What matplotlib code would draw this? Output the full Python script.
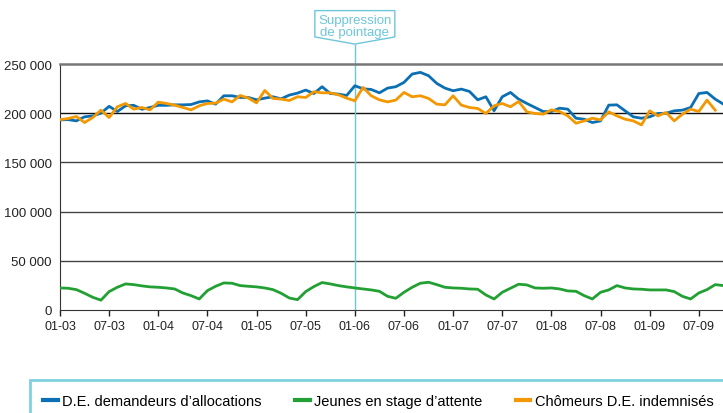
import numpy as np
import matplotlib
matplotlib.use("Agg")
import matplotlib.pyplot as plt
from matplotlib.patches import Polygon, Rectangle
from matplotlib.lines import Line2D

plt.rcParams["font.family"] = ["Liberation Sans", "DejaVu Sans"]

# monthly values, 01-03 ... 10-09
allocations = [193200, 193500, 192200, 196300, 197300, 200000, 207000, 201700, 207500, 208000,
               204000, 205800, 208000, 208000, 208500, 208500, 208800, 211500, 212500, 209200,
               217700, 217700, 216000, 216000, 213600, 215300, 216700, 214600, 218400, 220400,
               223500, 220000, 226900, 220000, 219400, 218000, 227900, 224800, 224100, 220700,
               225500, 226900, 231300, 239800, 241500, 238100, 230300, 225500, 222800, 224500,
               222100, 213600, 216700, 202500, 216700, 221100, 214300, 209900, 205800, 201700,
               201700, 205100, 204100, 194900, 193900, 190500, 192200, 208200, 208500, 202400,
               196300, 194900, 196300, 199700, 200000, 202400, 203100, 205800, 220000, 221100,
               214300, 209200]
jeunes = [22400, 22100, 20700, 17000, 12900, 10000, 18700, 23100, 26500, 25800,
          24500, 23500, 23100, 22400, 21400, 17300, 14600, 11200, 19700, 24100,
          27500, 27200, 24800, 24100, 23500, 22400, 20700, 17000, 12200, 10500,
          18700, 23800, 27900, 26500, 24800, 23500, 22400, 21400, 20400, 19000,
          13900, 11900, 18000, 23100, 27200, 28200, 25800, 23100, 22400, 22100,
          21400, 21100, 15300, 11200, 18000, 22100, 26200, 25500, 22400, 22100,
          22400, 21400, 19400, 19000, 14600, 11200, 18000, 20400, 24800, 22400,
          21400, 21100, 20400, 20400, 20400, 18700, 13900, 11200, 17300, 20700,
          25800, 24800]
indemnises = [193500, 194600, 196600, 190500, 195600, 203100, 195600, 206500, 209900, 204100,
              205800, 203400, 211200, 209900, 208200, 205800, 203400, 207500, 209900, 210200,
              214300, 211500, 218000, 215300, 210500, 223100, 215000, 214300, 212900, 216700,
              216000, 221800, 220700, 220700, 218700, 215300, 212600, 226200, 217700, 213600,
              211500, 213300, 221100, 216700, 217700, 215000, 209200, 208500, 217700, 208200,
              205800, 204800, 199700, 207500, 209900, 206500, 211900, 201400, 199700, 199000,
              203400, 201700, 197300, 189800, 192200, 194900, 193200, 201400, 197300, 193900,
              192200, 188100, 202400, 197300, 200700, 192200, 199000, 204100, 201700, 213300,
              203100]
tick_labels = ["01-03", "07-03", "01-04", "07-04", "01-05", "07-05", "01-06",
               "07-06", "01-07", "07-07", "01-08", "07-08", "01-09", "07-09"]
y_ticks = [0, 50000, 100000, 150000, 200000, 250000]
noms = ["D.E. demandeurs d\u2019allocations", "Jeunes en stage d\u2019attente",
        "Ch\u00f4meurs D.E. indemnis\u00e9s"]
couleurs = ["#0b6fb4", "#22a033", "#f39800"]
annotation_mois = 36
bleu_clair = "#6ec6d9"

fig = plt.figure(figsize=(7.23, 4.14), dpi=100)
# axes runs past the right edge, like the cropped original
ax = fig.add_axes([60 / 723, 103 / 414, 83 * 8.19 / 723, 246 / 414])

for serie, c in zip([allocations, jeunes, indemnises], couleurs):
    ax.plot(np.arange(len(serie)), serie, color=c, lw=2.0, solid_joinstyle="round", zorder=3)

ax.set_xlim(0, 83)
ax.set_ylim(0, 250000)
ax.set_yticks(y_ticks)
ax.set_yticklabels([f"{v:,}".replace(",", " ") for v in y_ticks])
ax.set_xticks(np.arange(len(tick_labels)) * 6)
ax.set_xticklabels(tick_labels)
ax.tick_params(axis="x", length=4, width=1, color="#222222", labelsize=9, labelcolor="#222222", pad=3)
ax.tick_params(axis="y", length=0, labelsize=9.5, labelcolor="#222222", pad=6)

for v in y_ticks[1:-1]:
    ax.axhline(v, color="#111111" if v == 200000 else "#444444", lw=1.0, zorder=1)
ax.spines["right"].set_visible(False)
ax.spines["top"].set_color("#777777")
ax.spines["top"].set_linewidth(1.8)
ax.spines["left"].set_color("#333333")
ax.spines["bottom"].set_color("#333333")

# suppression de pointage marker
trans = ax.get_xaxis_transform()
ax.plot([annotation_mois, annotation_mois], [0, 1.077], color=bleu_clair, lw=1.0,
        transform=trans, clip_on=False, zorder=2)
hw = 40 / 8.19
box = Polygon([(annotation_mois - hw, 1.110), (annotation_mois - hw, 1.217),
               (annotation_mois + hw, 1.217), (annotation_mois + hw, 1.110),
               (annotation_mois, 1.081)], closed=True, fill=False,
              edgecolor=bleu_clair, lw=1.0, transform=trans, clip_on=False)
ax.add_patch(box)
ax.text(annotation_mois, 1.155, "Suppression\nde pointage", transform=trans, ha="center",
        va="center", fontsize=9.5, color=bleu_clair, linespacing=0.95)

# legend frame, also cut by the right edge
fig.patches.append(Rectangle((30 / 723, -0.02), 0.99, (414 - 381) / 414 + 0.02,
                             transform=fig.transFigure, fill=False,
                             edgecolor="#7fd0e0", lw=2.0))
handles = [Line2D([], [], color=c, lw=3) for c in couleurs]
fig.legend(handles, noms, loc="center left", bbox_to_anchor=(43 / 723, (414 - 402) / 414),
           ncol=3, frameon=False, fontsize=10.5, handlelength=1.0, handletextpad=0.3,
           columnspacing=2.3, borderaxespad=0, borderpad=0)

fig.savefig("out.png", dpi=100)
